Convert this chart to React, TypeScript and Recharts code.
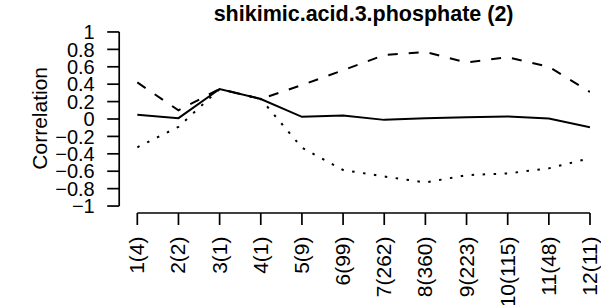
import React from "react";
import { LineChart, Line, XAxis, YAxis, ReferenceLine } from "recharts";

const categories = ["1(4)", "2(2)", "3(1)", "4(1)", "5(9)", "6(99)", "7(262)", "8(360)", "9(223)", "10(115)", "11(48)", "12(11)"];
const solidVals = [0.05, 0.01, 0.345, 0.23, 0.025, 0.04, -0.01, 0.01, 0.02, 0.03, 0.005, -0.095];
const dashedVals = [0.42, 0.1, 0.345, 0.23, 0.39, 0.56, 0.735, 0.77, 0.65, 0.71, 0.6, 0.31];
const dottedVals = [-0.325, -0.09, 0.345, 0.23, -0.33, -0.586, -0.66, -0.73, -0.645, -0.625, -0.567, -0.45];
const yTicks = [-1, -0.8, -0.6, -0.4, -0.2, 0, 0.2, 0.4, 0.6, 0.8, 1];
const xTicks = categories.map((_, i) => i + 1);

const data = categories.map((c, i) => ({
  x: i + 1,
  label: c,
  solid: solidVals[i],
  dashed: dashedVals[i],
  dotted: dottedVals[i],
}));

const FONT = "'Liberation Sans', Arial, Helvetica, sans-serif";
const fmtY = (v: number) => {
  if (Math.abs(v) < 1e-9) return "0";
  const s = String(Math.abs(Math.round(v * 10) / 10));
  return (v < 0 ? "\u2212" : "") + s;
};

const YTick = (props: any) => {
  const { x, y, payload } = props;
  return (
    <text x={x - 10.5} y={y} dy="0.36em" textAnchor="end" fontSize={20} fontFamily={FONT} fill="#000">
      {fmtY(payload.value)}
    </text>
  );
};

const XTick = (props: any) => {
  const { x, y, payload } = props;
  const lab = categories[Math.round(payload.value) - 1] ?? "";
  return (
    <text
      transform={`translate(${x + 7},${y + 9.5}) rotate(-90)`}
      textAnchor="end"
      fontSize={21}
      fontFamily={FONT}
      fill="#000"
    >
      {lab}
    </text>
  );
};

export default function App() {
  return (
    <div style={{ position: "absolute", left: 0, top: 0, width: 601, height: 305, background: "#fff", overflow: "hidden" }}>
      <LineChart width={601} height={305} data={data} margin={{ top: 25, right: 11, bottom: 0, left: 0 }}>
        <XAxis
          type="number"
          dataKey="x"
          domain={[0.56, 12]}
          allowDataOverflow
          ticks={xTicks}
          interval={0}
          height={92}
          tickSize={12}
          axisLine={false}
          tickLine={{ stroke: "#000", strokeWidth: 1.7 }}
          tick={<XTick />}
        />
        <YAxis
          type="number"
          domain={[-1.08, 1.08]}
          allowDataOverflow
          ticks={yTicks}
          interval={0}
          width={119.2}
          tickSize={12}
          axisLine={false}
          tickLine={{ stroke: "#000", strokeWidth: 1.7 }}
          tick={<YTick />}
        />
        <ReferenceLine
          segment={[{ x: 1, y: -1.08 }, { x: 12, y: -1.08 }]}
          stroke="#000"
          strokeWidth={1.7}
          ifOverflow="visible"
        />
        <ReferenceLine
          segment={[{ x: 0.56, y: -1 }, { x: 0.56, y: 1 }]}
          stroke="#000"
          strokeWidth={1.7}
          ifOverflow="visible"
        />
        <Line type="linear" dataKey="dashed" stroke="#000" strokeWidth={2} strokeDasharray="10 11" dot={false} isAnimationActive={false} />
        <Line type="linear" dataKey="dotted" stroke="#000" strokeWidth={2} strokeDasharray="2.5 8.5" dot={false} isAnimationActive={false} />
        <Line type="linear" dataKey="solid" stroke="#000" strokeWidth={2} dot={false} isAnimationActive={false} />
      </LineChart>
      <svg width={601} height={305} style={{ position: "absolute", left: 0, top: 0, pointerEvents: "none" }}>
        <text x={363.6} y={20.5} textAnchor="middle" fontWeight="bold" fontSize={21.5} fontFamily={FONT} fill="#000">
          shikimic.acid.3.phosphate (2)
        </text>
        <text transform="translate(46.5,118.3) rotate(-90)" textAnchor="middle" fontSize={21} fontFamily={FONT} fill="#000">
          Correlation
        </text>
      </svg>
    </div>
  );
}
